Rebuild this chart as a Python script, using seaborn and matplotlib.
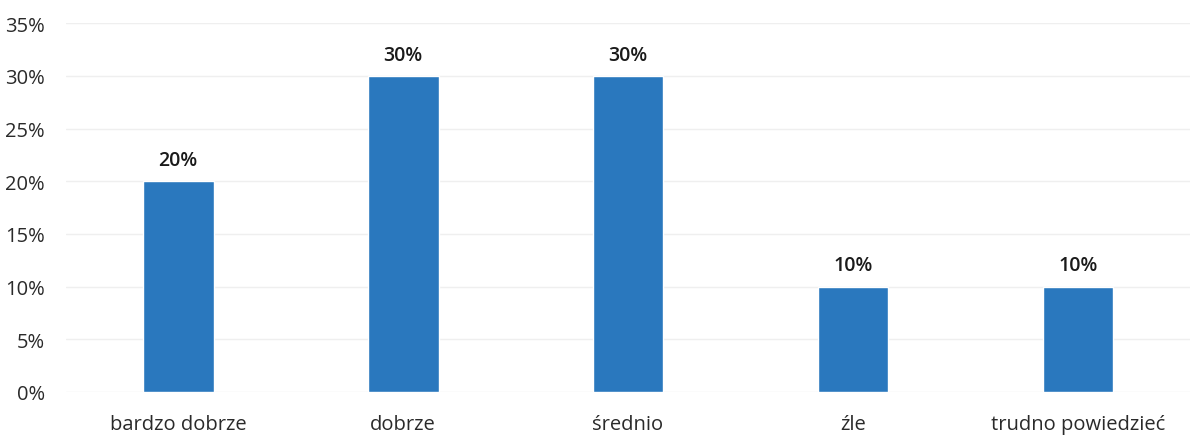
import pandas as pd
import seaborn as sns
import matplotlib.pyplot as plt
from matplotlib.ticker import PercentFormatter

categories = ["bardzo dobrze", "dobrze", "średnio", "źle", "trudno powiedzieć"]
shares = [20, 30, 30, 10, 10]
value_labels = ["20%", "30%", "30%", "10%", "10%"]

df = pd.DataFrame({"kategoria": categories, "udzial": shares})

sns.set_style("white")
plt.rcParams["font.family"] = ["Open Sans", "DejaVu Sans"]

fig = plt.figure(figsize=(11.94, 4.39), dpi=100)
ax = fig.add_axes([0.055, 0.105, 0.942, 0.84])

sns.barplot(data=df, x="kategoria", y="udzial", color="#2A78BE",
            width=0.315, saturation=1, ax=ax)

for patch, lab in zip(ax.patches, value_labels):
    ax.annotate(lab, (patch.get_x() + patch.get_width() / 2, patch.get_height()),
                xytext=(0, 8), textcoords="offset points",
                ha="center", va="bottom", fontsize=14, fontweight="semibold",
                color="#1a1a1a")

ax.set_ylim(0, 35)
ax.set_yticks(range(0, 36, 5))
ax.yaxis.set_major_formatter(PercentFormatter(decimals=0))
ax.grid(axis="y", color="#efefef", linewidth=1)
ax.set_axisbelow(True)
sns.despine(ax=ax, left=True, bottom=True)
ax.tick_params(axis="both", length=0, labelsize=14.5, colors="#2a2a2a")
ax.tick_params(axis="y", pad=15)
ax.tick_params(axis="x", pad=16)
ax.set_xlabel("")
ax.set_ylabel("")

fig.savefig("out.png", dpi=100)
